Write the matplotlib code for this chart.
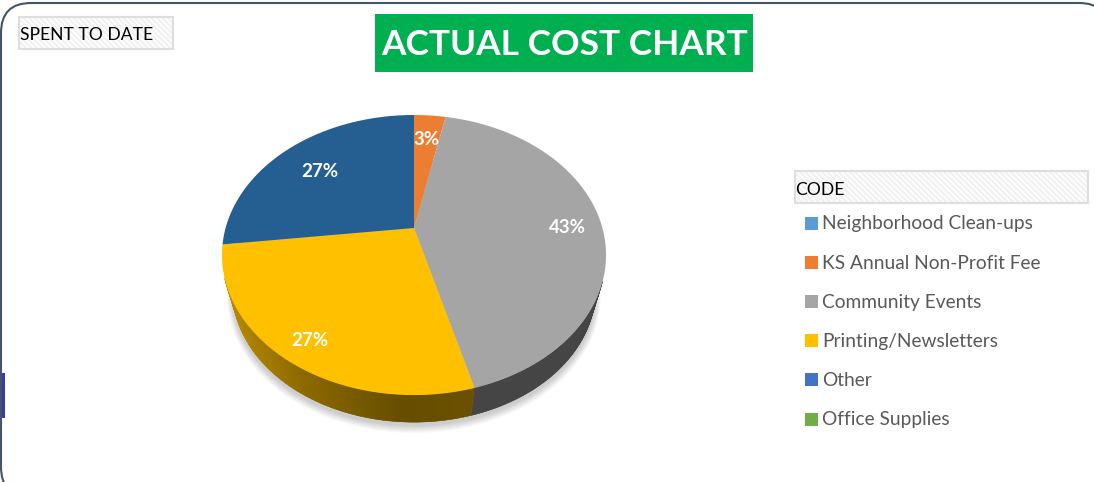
import matplotlib
import numpy as np

matplotlib.use("Agg")

import matplotlib.pyplot as plt
from matplotlib.colors import to_rgb
from matplotlib.patches import FancyBboxPatch, Rectangle

plt.rcParams["font.family"] = ["Lato", "DejaVu Sans"]
plt.rcParams["hatch.linewidth"] = 1.6

legend_labels = [
    "Neighborhood Clean-ups",
    "KS Annual Non-Profit Fee",
    "Community Events",
    "Printing/Newsletters",
    "Other",
    "Office Supplies",
]
legend_colors = ["#5b9bd5", "#ed7d31", "#a5a5a5", "#ffc000", "#4472c4", "#70ad47"]

# shares of the slices actually drawn, clockwise from 12 o'clock
slice_values = [3.2, 42.6, 27.3, 26.9]
slice_colors = ["#ed7d31", "#a5a5a5", "#ffc000", "#255e91"]
label_radius = [0.79, 0.82, 0.85, 0.73]

# tilted pie: circle seen in perspective, apex at (CX, CY)
CX, CY = 414.0, 228.0
RX, RY, PERSP = 188.4, 134.8, 0.193
# the lower rim is the upper one shrunk about the ellipse centre and moved down
RIM_CY, RIM_SCALE, RIM_DROP = 255.0, 0.945, 34.8


def project(angle_deg, radius=1.0):
    angle = np.radians(angle_deg)
    u = radius * np.sin(angle)
    v = radius * np.cos(angle)
    w = 1.0 + PERSP * v
    return CX + RX * u / w, CY - RY * v / w


def lower_rim(x, y, grow=1.0):
    scale = RIM_SCALE * grow
    return CX + (x - CX) * scale, RIM_CY + RIM_DROP + (y - RIM_CY) * scale


def side_shade(x):
    return np.interp(x, [222, 300, 400, 475, 606], [0.72, 0.55, 0.40, 0.42, 0.42])


def hatched_box(axis, x, y, width, height):
    axis.add_patch(Rectangle((x, y), width, height, facecolor="white", edgecolor="#f1f1f1", hatch="\\\\\\\\\\\\", linewidth=0))
    axis.add_patch(Rectangle((x, y), width, height, facecolor="none", edgecolor="#dedede", linewidth=1.5))


figure = plt.figure(figsize=(10.94, 4.82), dpi=100)
axis = figure.add_axes([0, 0, 1, 1])
axis.set_xlim(0, 1094)
axis.set_ylim(482, 0)
axis.axis("off")

# chart area frame, runs off the right and bottom edges
axis.add_patch(
    FancyBboxPatch(
        (31, 33), 1110 - 62, 500 - 66,
        boxstyle="round,pad=30,rounding_size=30",
        facecolor="white", edgecolor="#44546a", linewidth=1.5,
    )
)
axis.add_patch(Rectangle((2, 373), 3, 45, facecolor="#3b3ba8", edgecolor="none"))

# soft shadow under the pie
full_circle = np.linspace(0, 360, 361)
rim_x, rim_y = project(full_circle)
for step in range(1, 11):
    shadow_x, shadow_y = lower_rim(rim_x, rim_y, 1.0 + 0.003 * step)
    axis.fill(shadow_x, shadow_y + 3 + step * 0.4, color="black", alpha=0.018, linewidth=0, zorder=2)

# extruded side, one thin strip per half degree, front part only
edges = np.concatenate([[0], np.cumsum(slice_values)]) / sum(slice_values) * 360
for start, stop, color in zip(edges[:-1], edges[1:], slice_colors):
    base = np.array(to_rgb(color))
    for angle in np.arange(start, stop, 0.5):
        x0, y0 = project(angle)
        if y0 < RIM_CY + 25:
            continue
        x1, y1 = project(min(angle + 0.75, stop))
        x2, y2 = lower_rim(x1, y1)
        x3, y3 = lower_rim(x0, y0)
        shade = side_shade((x0 + x1) / 2)
        axis.fill([x0, x1, x2, x3], [y0, y1, y2, y3], color=tuple(base * shade), linewidth=0.3, zorder=3)

# top surface and labels
for start, stop, color, value, radius in zip(edges[:-1], edges[1:], slice_colors, slice_values, label_radius):
    arc = np.linspace(start, stop, 200)
    arc_x, arc_y = project(arc)
    axis.fill(np.r_[CX, arc_x], np.r_[CY, arc_y], color=color, linewidth=0, zorder=4)
    label_x, label_y = project((start + stop) / 2, radius)
    axis.text(
        label_x, label_y + 3, f"{value:.0f}%", color="white", fontsize=13.5, fontweight="bold",
        ha="center", va="center", zorder=5,
    )

# title
axis.add_patch(Rectangle((375, 14), 378, 58, facecolor="#00b050", edgecolor="none"))
axis.text(564.5, 45, "ACTUAL COST CHART", color="white", fontsize=25.4, fontweight="bold", ha="center", va="center")

# field buttons
hatched_box(axis, 18.5, 17, 154.5, 32)
axis.text(20, 35, "SPENT TO DATE", color="black", fontsize=12.6, ha="left", va="center")
hatched_box(axis, 795, 171, 293, 32)
axis.text(795, 190, "CODE", color="black", fontsize=12.6, ha="left", va="center")

# legend
for index, (label, color) in enumerate(zip(legend_labels, legend_colors)):
    row_y = 223 + index * 39.2
    axis.add_patch(Rectangle((805, row_y - 6.5), 13, 13, facecolor=color, edgecolor="none"))
    axis.text(822, row_y + 1, label, color="#595959", fontsize=13.8, ha="left", va="center")

figure.savefig("out.png", dpi=100)
plt.close(figure)
